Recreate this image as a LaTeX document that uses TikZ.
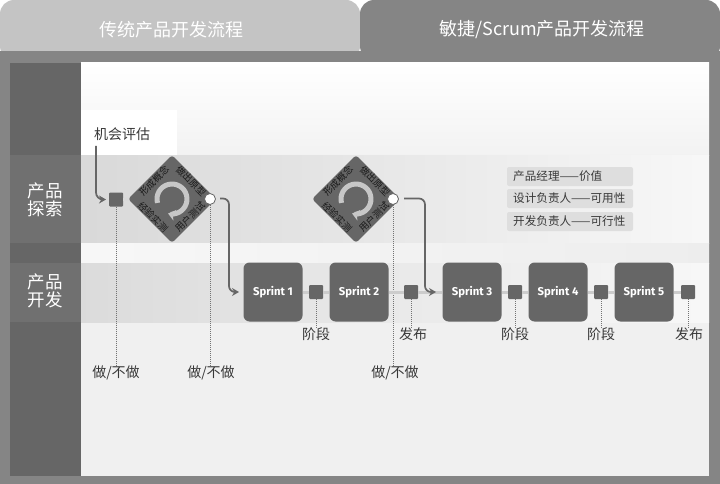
\documentclass[tikz,border=0pt]{standalone}
\usepackage{fontspec}
\setmainfont{Noto Sans CJK SC}
\newfontfamily\sprintfont{Fira Sans}
\usetikzlibrary{arrows.meta,shapes.geometric}
\definecolor{frame}{gray}{0.52}
\definecolor{dark}{gray}{0.40}
\definecolor{tabl}{gray}{0.77}
\definecolor{txt}{gray}{0.22}
\tikzset{
 x=1pt,y=-1pt,
 sprintbox/.style={fill=dark,rounded corners=6pt,minimum width=59pt,minimum height=59pt,inner sep=0pt,text=white,font=\sprintfont\bfseries\fontsize{11.3}{12}\selectfont},
 gate/.style={fill=dark,rounded corners=1pt,minimum size=14pt,inner sep=0pt},
 lab/.style={font=\fontsize{14}{16}\selectfont,text=txt,inner sep=0pt},
 side/.style={font=\fontsize{17.5}{18}\selectfont,text=white,align=center,inner sep=0pt},
 tab/.style={font=\fontsize{18}{20}\selectfont,text=white,inner sep=0pt},
 flow/.style={draw=dark,line width=1.7pt,-{Stealth[length=7pt,width=8pt]}},
 dotline/.style={draw=gray!90!black,line width=1pt,densely dotted},
 role/.style={fill=black!13,rounded corners=2pt,minimum width=126pt,minimum height=19pt,inner sep=0pt},
 roletxt/.style={font=\fontsize{11.6}{13}\selectfont,text=txt,inner sep=0pt,anchor=west},
 dia/.style={fill=dark,diamond,aspect=1,minimum size=88pt,inner sep=0pt,rounded corners=3pt},
 diatxt/.style={font=\fontsize{9.4}{10}\selectfont,text=black!90,inner sep=0pt},
 conn/.style={draw=black!20,line width=3pt},
 knob/.style={circle,fill=white,draw=dark,line width=.8pt,minimum size=11pt,inner sep=0pt},
}
\begin{document}
\begin{tikzpicture}
\useasboundingbox (0,0) rectangle (720,484);
% page and frame
\fill[white] (0,0) rectangle (720,484);
\fill[frame] (0,51) rectangle (720,484);
\fill[tabl,rounded corners=14pt] (0,60) -- (0,0) -- (360,0) -- (360,60) -- cycle;
\fill[frame] (0,51) rectangle (360,63);
\fill[frame,rounded corners=14pt] (360,60) -- (360,0) -- (720,0) -- (720,60) -- cycle;
\node[tab] (t1) at (171,30) {传统产品开发流程};
\node[tab] (t2) at (542,30) {敏捷/Scrum产品开发流程};
% body
\fill[dark] (10,63) rectangle (81,476);
\shade[top color=white,bottom color=black!5] (81,63) rectangle (709,155);
\fill[black!6] (81,322) rectangle (709,476);
\shade[left color=black!15,right color=black!3] (81,155) rectangle (709,243);
\shade[left color=black!3,right color=black!7] (81,243) rectangle (709,263);
\shade[left color=black!14,right color=black!3] (81,263) rectangle (709,322);
\fill[white] (81,110) rectangle (177,155);
% side bands
\fill[black!56] (10,155) rectangle (81,243);
\fill[black!56] (10,263) rectangle (81,322);
\node[side] (s1) at (45,200) {产品\\探索};
\node[side] (s2) at (45,291) {产品\\开发};
% exploration
\coordinate (d1) at (116,365);
\coordinate (d2) at (210,365);
\coordinate (d3) at (393,365);
\node[gate] (g0) at (116,199.5) {};
\node[dia] (D1) at (172,199) {};
\node[dia] (D2) at (356,199) {};
\node[knob] (c1) at (210,199) {};
\node[knob] (c2) at (393,199) {};
\draw[black!15,line width=3pt] (g0) -- (D1);
\draw[dotline] (g0) -- (d1);
\draw[dotline] (c1) -- (d2);
\draw[dotline] (c2) -- (d3);
% sprints
\node[sprintbox] (S1) at (273,292) {Sprint 1};
\node[sprintbox] (S2) at (359,292) {Sprint 2};
\node[sprintbox] (S3) at (472,292) {Sprint 3};
\node[sprintbox] (S4) at (558,292) {Sprint 4};
\node[sprintbox] (S5) at (644,292) {Sprint 5};
\node[gate] (g1) at (316,292) {};
\node[gate] (g2) at (411,292) {};
\node[gate] (g3) at (515,292) {};
\node[gate] (g4) at (601,292) {};
\node[gate] (g5) at (688,292) {};
\draw[conn] (S1) -- (g1); \draw[conn] (g1) -- (S2); \draw[conn] (S2) -- (g2); \draw[conn] (g2) -- (S3);
\draw[conn] (S3) -- (g3); \draw[conn] (g3) -- (S4); \draw[conn] (S4) -- (g4); \draw[conn] (g4) -- (S5); \draw[conn] (S5) -- (g5);
% arrows
\node[lab,anchor=west] (opp) at (94,134) {机会评估};
\coordinate (a0) at (96,146);
\coordinate (a1) at (106,199.5);
\coordinate (b0) at (220,198.5);
\coordinate (b1) at (239,292);
\coordinate (e0) at (404,198.5);
\coordinate (e1) at (436,292);
\draw[flow,rounded corners=7pt] (a0) -- (96,199.5) -- (a1);
\draw[flow,rounded corners=6pt] (b0) -- (229,198.5) -- (229,292) -- (b1);
\draw[flow,rounded corners=6pt] (e0) -- (425,198.5) -- (425,292) -- (e1);
% diamond text and loop
\foreach \n in {D1,D2}{
 \node[diatxt,rotate=45] at ([shift={(-18,-18)}]\n) {形成概念};
 \node[diatxt,rotate=-45] at ([shift={(19,-18)}]\n) {做出原型};
 \node[diatxt,rotate=-45] at ([shift={(-19,18)}]\n) {经验实测};
 \node[diatxt,rotate=45] at ([shift={(18,18)}]\n) {用户测试};
 \draw[black!22,line width=5pt,-{Stealth[length=7pt,width=11pt]}] ([shift={(-14.5,3.9)}]\n) arc[start angle=195,end angle=-105,radius=15pt];
}
% roles
\node[role] (r1) at (570,176.5) {};
\node[role] (r2) at (570,198.5) {};
\node[role] (r3) at (570,221.5) {};
\node[roletxt] at (513,176.5) {产品经理——价值};
\node[roletxt] at (513,198.5) {设计负责人——可用性};
\node[roletxt] at (513,221.5) {开发负责人——可行性};
% gate labels
\node[lab] (l1) at (316,334) {阶段};
\node[lab] (l2) at (413,334) {发布};
\node[lab] (l3) at (515,334) {阶段};
\node[lab] (l4) at (601,334) {阶段};
\node[lab] (l5) at (689,334) {发布};
\draw[dotline] (g1) -- (g1 |- l1.north);
\draw[dotline] (g2) -- (g2 |- l2.north);
\draw[dotline] (g3) -- (g3 |- l3.north);
\draw[dotline] (g4) -- (g4 |- l4.north);
\draw[dotline] (g5) -- (g5 |- l5.north);
\node[lab] (n1) at (116,373) {做/不做};
\node[lab] (n2) at (211,373) {做/不做};
\node[lab] (n3) at (395,373) {做/不做};
\end{tikzpicture}
\end{document}
